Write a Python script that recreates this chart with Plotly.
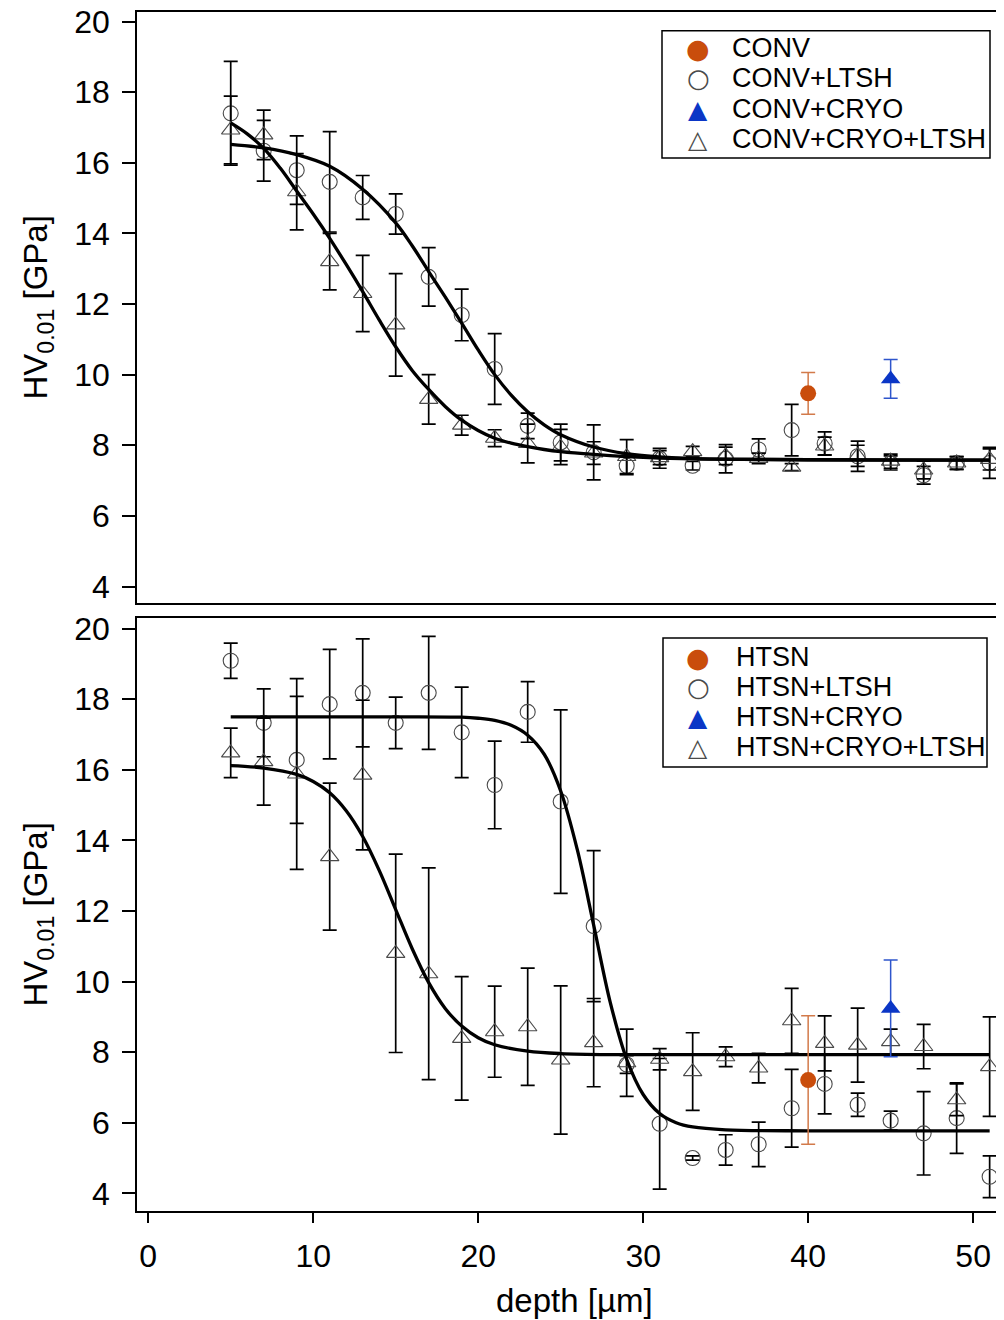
import plotly.graph_objects as go

# ---------------- data ----------------
depth = [5, 7, 9, 11, 13, 15, 17, 19, 21, 23, 25, 27, 29, 31, 33, 35, 37, 39, 41, 43, 45, 47, 49, 51]

# top panel
conv_ltsh = [17.40, 16.34, 15.79, 15.46, 15.02, 14.55, 12.77, 11.69, 10.16, 8.55, 8.08, 7.80,
             7.42, 7.63, 7.42, 7.62, 7.88, 8.43, 8.05, 7.69, 7.50, 7.15, 7.50, 7.50]
conv_ltsh_err = [1.47, 0.86, 0.97, 1.42, 0.62, 0.57, 0.83, 0.73, 1.00, 0.36, 0.52, 0.78,
                 0.25, 0.28, 0.12, 0.40, 0.30, 0.73, 0.33, 0.43, 0.20, 0.25, 0.18, 0.44]
conv_cryo_ltsh = [16.93, 16.79, 15.18, 13.20, 12.30, 11.41, 9.30, 8.57, 8.20, 8.05, 7.95, 7.78,
                  7.68, 7.65, 7.82, 7.70, 7.63, 7.38, 7.98, 7.70, 7.55, 7.30, 7.50, 7.60]
conv_cryo_ltsh_err = [0.96, 0.70, 1.08, 0.80, 1.08, 1.45, 0.70, 0.28, 0.24, 0.55, 0.50, 0.32,
                      0.48, 0.20, 0.15, 0.25, 0.15, 0.10, 0.25, 0.30, 0.20, 0.25, 0.18, 0.30]
conv_x, conv_y, conv_err = [40], [9.47], [0.59]
conv_cryo_x, conv_cryo_y, conv_cryo_err = [45], [9.88], [0.55]

# fitted curves, top panel
fit1_x = [5, 7, 9, 11, 13, 15, 16, 17, 18, 19, 20, 21, 22, 23, 24, 25, 27, 29, 31, 33, 36, 40, 45, 51]
fit1_y = [16.52, 16.42, 16.23, 15.90, 15.25, 14.30, 13.65, 12.92, 12.20, 11.46, 10.70, 10.00,
          9.42, 8.95, 8.58, 8.30, 7.95, 7.76, 7.67, 7.62, 7.60, 7.59, 7.58, 7.58]
fit2_x = [5, 6, 7, 8, 9, 10, 11, 12, 13, 14, 15, 16, 17, 18, 19, 20, 21, 22, 23, 24, 25, 27, 29, 31, 34, 40, 51]
fit2_y = [17.13, 16.82, 16.41, 15.85, 15.20, 14.55, 13.86, 13.12, 12.35, 11.55, 10.79, 10.12, 9.58,
          9.10, 8.71, 8.42, 8.20, 8.06, 7.96, 7.88, 7.82, 7.74, 7.68, 7.64, 7.61, 7.59, 7.58]

# bottom panel
htsn_ltsh = [19.09, 17.33, 16.28, 17.86, 18.18, 17.33, 18.18, 17.06, 15.57, 17.64, 15.10, 11.57,
             7.65, 5.97, 5.00, 5.23, 5.39, 6.41, 7.10, 6.51, 6.06, 5.70, 6.13, 4.47]
htsn_ltsh_err = [0.50, 0.96, 1.80, 1.55, 1.53, 0.73, 1.60, 1.28, 1.24, 0.86, 2.60, 2.14,
                 0.25, 1.85, 0.06, 0.43, 0.63, 1.10, 0.85, 0.33, 0.27, 1.18, 1.00, 0.59]
htsn_cryo_ltsh = [16.48, 16.23, 15.88, 13.54, 15.85, 10.80, 10.22, 8.39, 8.58, 8.72, 7.78, 8.27,
                  7.70, 7.80, 7.45, 7.87, 7.55, 8.89, 8.25, 8.20, 8.30, 8.16, 6.65, 7.59]
htsn_cryo_ltsh_err = [0.70, 1.23, 2.70, 2.08, 2.12, 2.81, 3.00, 1.75, 1.29, 1.66, 2.10, 1.25,
                      0.95, 0.30, 1.10, 0.28, 0.42, 0.92, 0.78, 1.05, 0.35, 0.63, 0.45, 1.41]
htsn_x, htsn_y, htsn_err = [40], [7.21], [1.82]
htsn_cryo_x, htsn_cryo_y, htsn_cryo_err = [45], [9.24], [1.37]

fit3_x = [5, 10, 15, 19, 20, 21, 22, 23, 24, 25, 26, 27, 28, 29, 30, 31, 32, 33, 35, 40, 51]
fit3_y = [17.50, 17.50, 17.50, 17.49, 17.46, 17.40, 17.26, 16.98, 16.44, 15.40, 13.75, 11.60,
          9.42, 7.80, 6.80, 6.26, 6.00, 5.88, 5.80, 5.77, 5.77]
fit4_x = [5, 7, 9, 10, 11, 12, 13, 14, 15, 16, 17, 18, 19, 20, 21, 23, 25, 28, 35, 51]
fit4_y = [16.12, 16.05, 15.87, 15.67, 15.35, 14.84, 14.11, 13.15, 12.04, 10.93, 9.97, 9.24,
          8.74, 8.41, 8.21, 8.03, 7.96, 7.93, 7.93, 7.93]

y_ticks = [4, 6, 8, 10, 12, 14, 16, 18, 20]
x_ticks = [0, 10, 20, 30, 40, 50]
legend_top = ["CONV", "CONV+LTSH", "CONV+CRYO", "CONV+CRYO+LTSH"]
legend_bottom = ["HTSN", "HTSN+LTSH", "HTSN+CRYO", "HTSN+CRYO+LTSH"]

# ---------------- styling ----------------
FONT = "Liberation Sans, Arial, sans-serif"
SYMFONT = "DejaVu Sans, sans-serif"
ORANGE = "#C94D0C"
ORANGE_ERR = "#D27A4A"
BLUE = "#0B36C6"
BLUE_ERR = "#2E55CC"
GREY = "#4a4a4a"

# figure geometry (page body adds an 8 px offset)
W, H = 996, 1312
ML, MT, MB = 129, 0, 109
PW, PH = W - ML, H - MT - MB

fig = go.Figure()


def err(arr, color="black", thick=1.7, w=7):
    return dict(type="data", array=arr, visible=True, color=color, thickness=thick, width=w)


def add_panel(xa, ya, names, open_c, open_c_err, open_t, open_t_err,
              fc_x, fc_y, fc_err, ft_x, ft_y, ft_err, fits):
    fig.add_trace(go.Scatter(x=depth, y=open_c, mode="markers", name=names[1],
                             xaxis=xa, yaxis=ya,
                             marker=dict(symbol="circle-open", size=15, color=GREY, line=dict(width=1.1)),
                             error_y=err(open_c_err)))
    fig.add_trace(go.Scatter(x=depth, y=open_t, mode="markers", name=names[3],
                             xaxis=xa, yaxis=ya,
                             marker=dict(symbol="triangle-up-open", size=16, color=GREY, line=dict(width=1.1)),
                             error_y=err(open_t_err)))
    for fx, fy in fits:
        fig.add_trace(go.Scatter(x=fx, y=fy, mode="lines", name="fit",
                                 xaxis=xa, yaxis=ya, line=dict(color="black", width=3.3, shape="spline"),
                                 hoverinfo="skip"))
    fig.add_trace(go.Scatter(x=fc_x, y=fc_y, mode="markers", name=names[0],
                             xaxis=xa, yaxis=ya,
                             marker=dict(symbol="circle", size=16, color=ORANGE),
                             error_y=err(fc_err, ORANGE_ERR, 1.5, 7)))
    fig.add_trace(go.Scatter(x=ft_x, y=ft_y, mode="markers", name=names[2],
                             xaxis=xa, yaxis=ya,
                             marker=dict(symbol="triangle-up", size=17, color=BLUE),
                             error_y=err(ft_err, BLUE_ERR, 1.5, 7)))


add_panel("x", "y", legend_top,
          conv_ltsh, conv_ltsh_err, conv_cryo_ltsh, conv_cryo_ltsh_err,
          conv_x, conv_y, conv_err, conv_cryo_x, conv_cryo_y, conv_cryo_err,
          [(fit1_x, fit1_y), (fit2_x, fit2_y)])
add_panel("x2", "y2", legend_bottom,
          htsn_ltsh, htsn_ltsh_err, htsn_cryo_ltsh, htsn_cryo_ltsh_err,
          htsn_x, htsn_y, htsn_err, htsn_cryo_x, htsn_cryo_y, htsn_cryo_err,
          [(fit3_x, fit3_y), (fit4_x, fit4_y)])

axis_line = dict(showline=True, linecolor="black", linewidth=1.5, showgrid=False, zeroline=False,
                 automargin=False)
yax = dict(axis_line, tickvals=y_ticks, ticks="outside", ticklen=13,
           tickwidth=1.5, tickcolor="black", ticklabelstandoff=6, ticklabeloverflow="allow",
           tickfont=dict(family=FONT, size=32, color="black"))

fig.update_layout(
    width=W, height=H,
    margin=dict(l=ML, r=0, t=MT, b=MB, pad=0, autoexpand=False),
    paper_bgcolor="white", plot_bgcolor="white",
    font=dict(family=FONT, color="black"),
    showlegend=False,
    xaxis=dict(axis_line, domain=[0, 1], anchor="y", range=[-0.68, 51.87], mirror=True,
               showticklabels=False, ticks=""),
    yaxis=dict(yax, domain=[0.5054, 0.99667], anchor="x", range=[3.533, 20.27]),
    xaxis2=dict(axis_line, domain=[0, 1], anchor="y2", range=[-0.68, 51.87], mirror=True,
                tickvals=x_ticks, ticks="outside", ticklen=10, tickwidth=1.5, tickcolor="black",
                ticklabelstandoff=6, ticklabeloverflow="allow",
                tickfont=dict(family=FONT, size=32, color="black")),
    yaxis2=dict(yax, domain=[0, 0.49293], anchor="x2", range=[3.50, 20.30]),
)

ytitle = "HV<sub>0.01</sub> [GPa]"
for yd in ["y domain", "y2 domain"]:
    fig.add_annotation(text=ytitle, xref="paper", x=0, xshift=-99, yref=yd, y=0.5,
                       textangle=-90, showarrow=False, xanchor="center", yanchor="middle",
                       font=dict(family=FONT, size=33, color="black"))
fig.add_annotation(text="depth [µm]", xref="paper", x=0.505, yref="paper", y=0, yshift=-89,
                   showarrow=False, xanchor="center", yanchor="middle",
                   font=dict(family=FONT, size=33, color="black"))


# ---------------- manual legends (boxes, symbols, labels) ----------------
def px2x(px):
    return (px - ML) / PW


def px2y(py):
    return (H - MB - py) / PH


def legend_block(labels, box, rows, sym_x, text_x):
    x0, x1, y0, y1 = box
    fig.add_shape(type="rect", xref="paper", yref="paper",
                  x0=px2x(x0), x1=px2x(x1), y0=px2y(y1), y1=px2y(y0),
                  line=dict(color="black", width=1.5), fillcolor="white", layer="above")
    symbols = [("●", ORANGE, 27), ("○", GREY, 26), ("▲", BLUE, 25), ("△", GREY, 25)]
    for lab, ry, (sym, col, sz) in zip(labels, rows, symbols):
        fig.add_annotation(text=sym, xref="paper", yref="paper", x=px2x(sym_x), y=px2y(ry),
                           showarrow=False, xanchor="center", yanchor="middle",
                           font=dict(family=SYMFONT, size=sz, color=col))
        fig.add_annotation(text=lab, xref="paper", yref="paper", x=px2x(text_x), y=px2y(ry),
                           showarrow=False, xanchor="left", yanchor="middle",
                           font=dict(family=FONT, size=27, color="black"))


legend_block(legend_top, (654, 982, 22.7, 150), [40, 70.5, 101, 131.5], 690, 722)
legend_block(legend_bottom, (655, 979, 630, 759), [649, 679, 709, 739], 690, 726)

fig.write_html("out.html")
